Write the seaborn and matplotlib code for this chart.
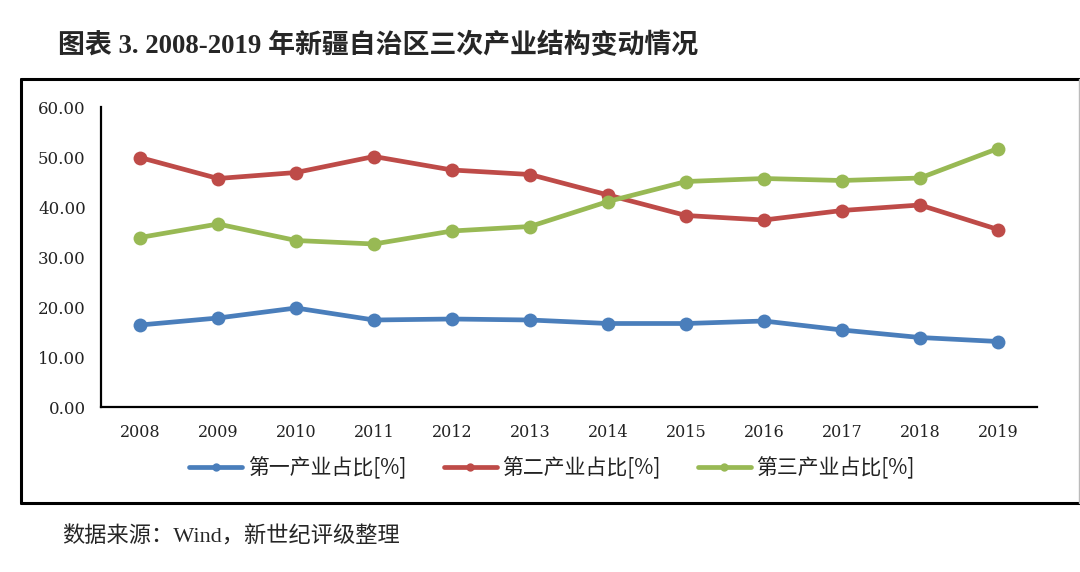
import matplotlib
matplotlib.use("Agg")
import matplotlib.pyplot as plt
import seaborn as sns
import pandas as pd
from matplotlib.lines import Line2D

years = ["2008", "2009", "2010", "2011", "2012", "2013", "2014", "2015", "2016", "2017", "2018", "2019"]
primary = [16.4, 17.8, 19.8, 17.4, 17.6, 17.4, 16.7, 16.7, 17.2, 15.4, 13.9, 13.1]
secondary = [49.9, 45.7, 46.9, 50.1, 47.4, 46.5, 42.4, 38.3, 37.4, 39.3, 40.4, 35.5]
tertiary = [33.9, 36.6, 33.3, 32.6, 35.2, 36.1, 41.1, 45.1, 45.7, 45.3, 45.8, 51.7]
series_names = ["第一产业占比[%]", "第二产业占比[%]", "第三产业占比[%]"]
colors = ["#4A7EBB", "#BE4B48", "#98B954"]
yticks = [0, 10, 20, 30, 40, 50, 60]
title = "图表 3. 2008-2019 年新疆自治区三次产业结构变动情况"
source = "数据来源：Wind，新世纪评级整理"

sns.set_theme(style="white")
plt.rcParams['font.family'] = ['Liberation Serif', 'Noto Sans CJK SC']

rows = []
for name, vals in zip(series_names, [primary, secondary, tertiary]):
    for i, v in enumerate(vals):
        rows.append({"idx": i, "value": v, "series": name})
df = pd.DataFrame(rows)

fig = plt.figure(figsize=(10.8, 5.72), dpi=100)
ax = fig.add_axes([101/1080, 1 - 407/572, (1037-101)/1080, (407-107)/572])

sns.lineplot(data=df, x="idx", y="value", hue="series", palette=colors,
             marker="o", markersize=10, markeredgewidth=0, linewidth=3.4,
             legend=False, ax=ax)

ax.set_xlim(-0.5, len(years) - 0.5)
ax.set_ylim(0, 60)
ax.set_xticks(range(len(years)))
ax.set_xticklabels(years)
ax.set_yticks(yticks)
ax.set_yticklabels([f"{v:.2f}" for v in yticks])
ax.set_xlabel("")
ax.set_ylabel("")
for s in ["top", "right"]:
    ax.spines[s].set_visible(False)
for s in ["left", "bottom"]:
    ax.spines[s].set_color("black")
    ax.spines[s].set_linewidth(1.6)

ax.tick_params(axis="both", which="major", length=0, colors="#222222")
ax.tick_params(axis="y", pad=11)
ax.tick_params(axis="x", pad=12)
ax.set_xticks([i - 0.5 for i in range(len(years) + 1)], minor=True)
ax.set_yticks([60], minor=True)
ax.tick_params(axis="x", which="minor", direction="in", length=5, width=1.4, color="black")
ax.tick_params(axis="y", which="minor", direction="in", length=6, width=1.4, color="black")
for lbl in ax.get_xticklabels():
    lbl.set_fontfamily(["DejaVu Serif"])
    lbl.set_fontsize(11.5)
for lbl in ax.get_yticklabels():
    lbl.set_fontfamily(["DejaVu Serif"])
    lbl.set_fontsize(12)

# box frame
fig.add_artist(Line2D([21/1080, 21/1080], [1 - 79/572, 1 - 503/572], color="black", lw=2.2, transform=fig.transFigure))
fig.add_artist(Line2D([21/1080, 1.0], [1 - 79/572, 1 - 79/572], color="black", lw=2.2, transform=fig.transFigure))
fig.add_artist(Line2D([21/1080, 1.0], [1 - 503/572, 1 - 503/572], color="black", lw=2.2, transform=fig.transFigure))
fig.add_artist(Line2D([1079/1080, 1079/1080], [1 - 79/572, 1 - 503/572], color="#BBBBBB", lw=1, transform=fig.transFigure))

handles = [Line2D([0], [0], color=c, lw=3.4, marker="o", markersize=6, markeredgewidth=0) for c in colors]
leg = fig.legend(handles, series_names, loc="center", bbox_to_anchor=(552/1080, 1 - 468/572),
                 ncol=3, frameon=False, handlelength=2.55, handletextpad=0.25, columnspacing=1.8,
                 prop={"family": ["Noto Sans CJK SC"], "size": 15})
for t in leg.get_texts():
    t.set_color("#222222")

fig.text(58/1080, 1 - 46/572, title, fontsize=19.4, fontweight="bold", va="center", ha="left",
         family=["Liberation Serif", "Noto Sans CJK SC"])
fig.text(62/1080, 1 - 537/572, source, fontsize=16, va="center", ha="left",
         family=["Liberation Serif", "Noto Sans CJK SC"])

fig.savefig("out.png", dpi=100)
